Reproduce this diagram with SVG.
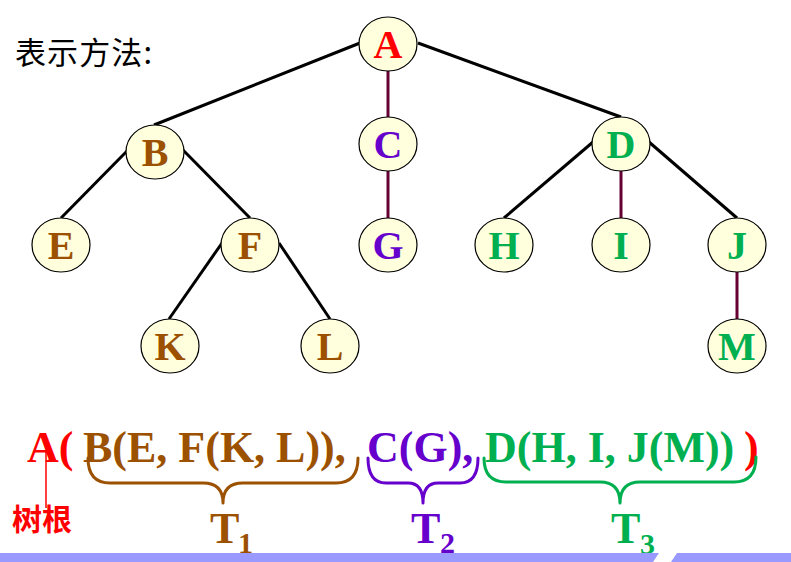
<svg xmlns="http://www.w3.org/2000/svg" width="791" height="562" viewBox="0 0 791 562">
<style>
.node ellipse{fill:#FFFFDD;stroke:#000;stroke-width:1.2}
.node text{font-family:"Liberation Serif",serif;font-weight:bold;font-size:40px;text-anchor:middle}
.e{stroke:#000;stroke-width:3;fill:none}
.m{stroke:#660033;stroke-width:3;fill:none}
.ex{font-family:"Liberation Serif",serif;font-weight:bold;font-size:44px}
.sub{font-family:"Liberation Serif",serif;font-weight:bold;font-size:30px}
.brace{fill:none;stroke-width:3;stroke-linejoin:round;stroke-linecap:round}
.red{fill:#FF0000}.brn{fill:#9C5100}.pur{fill:#6600CC}.grn{fill:#00B050}
</style>
<rect width="791" height="562" fill="#FFFFFF"/>
<text x="15" y="64" font-family="'Noto Sans CJK SC',sans-serif" font-size="31" fill="#000" textLength="137" lengthAdjust="spacing">表示方法:</text>
<g id="connectors">
<line class="e" x1="360" y1="43" x2="154" y2="125"/>
<line class="m" x1="388" y1="71" x2="388" y2="117"/>
<line class="e" x1="418" y1="43" x2="621" y2="117"/>
<line class="e" x1="128" y1="150" x2="61" y2="218"/>
<line class="e" x1="183" y1="150" x2="250" y2="218"/>
<line class="m" x1="388" y1="171" x2="388" y2="218"/>
<line class="e" x1="593" y1="142" x2="504" y2="218"/>
<line class="m" x1="621" y1="171" x2="621" y2="218"/>
<line class="e" x1="649" y1="142" x2="737" y2="218"/>
<line class="m" x1="737" y1="272" x2="737" y2="319"/>
<line class="e" x1="222" y1="243" x2="169" y2="319"/>
<line class="e" x1="279" y1="243" x2="330" y2="319"/>
</g>
<g id="nA" class="node"><ellipse cx="388" cy="44" rx="29" ry="27"/><text x="388" y="58" class="red">A</text></g>
<g id="nB" class="node"><ellipse cx="155" cy="152" rx="29" ry="27"/><text x="155" y="166" class="brn">B</text></g>
<g id="nC" class="node"><ellipse cx="388" cy="144" rx="29" ry="27"/><text x="388" y="158" class="pur">C</text></g>
<g id="nD" class="node"><ellipse cx="621" cy="144" rx="29" ry="27"/><text x="621" y="158" class="grn">D</text></g>
<g id="nE" class="node"><ellipse cx="61" cy="245" rx="29" ry="27"/><text x="61" y="259" class="brn">E</text></g>
<g id="nF" class="node"><ellipse cx="250" cy="245" rx="29" ry="27"/><text x="250" y="259" class="brn">F</text></g>
<g id="nG" class="node"><ellipse cx="388" cy="245" rx="29" ry="27"/><text x="388" y="259" class="pur">G</text></g>
<g id="nH" class="node"><ellipse cx="504" cy="245" rx="29" ry="27"/><text x="504" y="259" class="grn">H</text></g>
<g id="nI" class="node"><ellipse cx="621" cy="245" rx="29" ry="27"/><text x="621" y="259" class="grn">I</text></g>
<g id="nJ" class="node"><ellipse cx="737" cy="245" rx="29" ry="27"/><text x="737" y="259" class="grn">J</text></g>
<g id="nK" class="node"><ellipse cx="170" cy="346" rx="29" ry="27"/><text x="170" y="360" class="brn">K</text></g>
<g id="nL" class="node"><ellipse cx="330" cy="346" rx="29" ry="27"/><text x="330" y="360" class="brn">L</text></g>
<g id="nM" class="node"><ellipse cx="737" cy="346" rx="29" ry="27"/><text x="737" y="360" class="grn">M</text></g>
<g id="expression">
<text x="27" y="462" class="ex red">A(</text>
<text x="83" y="462" class="ex brn">B(E, F(K, L)),</text>
<text x="367" y="462" class="ex pur">C(G),</text>
<text x="485" y="462" class="ex grn">D(H, I, J(M))</text>
<text x="744" y="462" class="ex red">)</text>
</g>
<g id="root-label">
<line x1="46" y1="450" x2="46" y2="508" stroke="#FF0000" stroke-width="1.5"/>
<text x="12" y="530" font-family="'Noto Sans CJK SC',sans-serif" font-weight="bold" font-size="30" fill="#FF0000">树根</text>
</g>
<g id="T1">
<path class="brace" stroke="#9C5100" d="M88,458 Q88,483 110,483 L203,483 Q223,483 223,503 Q223,483 243,483 L336,483 Q358,483 358,458"/>
<text x="210" y="543" class="ex brn">T</text><text x="238" y="553" class="sub brn">1</text>
</g>
<g id="T2">
<path class="brace" stroke="#6600CC" d="M368,458 Q368,483 386,483 L408,483 Q423,483 423,503 Q423,483 438,483 L460,483 Q478,483 478,458"/>
<text x="411" y="543" class="ex pur">T</text><text x="440" y="553" class="sub pur">2</text>
</g>
<g id="T3">
<path class="brace" stroke="#00B050" d="M484,458 Q484,482 506,482 L600,482 Q620,482 620,503 Q620,482 640,482 L734,482 Q756,482 756,457"/>
<text x="611" y="543" class="ex grn">T</text><text x="640" y="554" class="sub grn">3</text>
</g>
<polygon points="0,553 659,553 653,562 0,562" fill="#9999FF"/>
<polygon points="677,553 791,553 791,562 671,562" fill="#9999FF"/>
</svg>
